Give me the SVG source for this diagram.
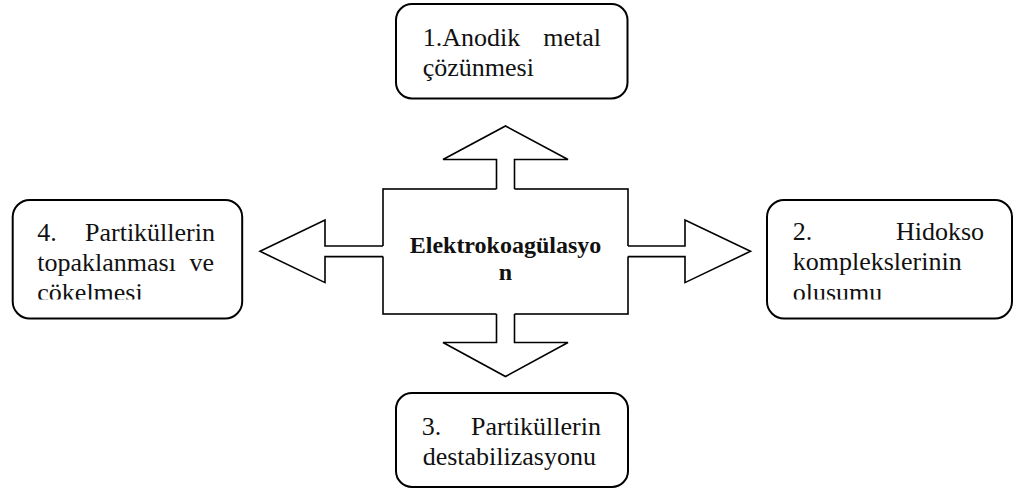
<svg xmlns="http://www.w3.org/2000/svg" width="1014" height="491" viewBox="0 0 1014 491">
<style>
.box{fill:#fff;stroke:#000;stroke-width:2}
.t{font-family:"Liberation Serif","Times New Roman",serif;font-size:26px;fill:#111}
.c{font-family:"Liberation Serif","Times New Roman",serif;font-size:24px;font-weight:bold;fill:#111;text-anchor:middle}
.af{fill:#fff;stroke:none}
.ao{fill:none;stroke:#000;stroke-width:1.6;stroke-linejoin:miter}
</style>
<defs>
<clipPath id="clip4"><rect x="14" y="201" width="227" height="98.5"/></clipPath>
<clipPath id="clip2"><rect x="768" y="201" width="243" height="98.5"/></clipPath>
</defs>
<rect width="1014" height="491" fill="#fff"/>
<g id="center">
<rect x="383" y="189" width="245" height="125" fill="#fff" stroke="#000" stroke-width="1.6"/>
<text class="c" x="505.5" y="252.7">Elektrokoagülasyo</text>
<text class="c" x="505.5" y="280">n</text>
</g>
<g id="connectors">
<polygon class="af" points="496.5,191 496.5,159.5 443,159.5 505.5,126 568,159.5 514.5,159.5 514.5,191"/>
<polyline class="ao" points="496.5,189 496.5,159.5 443,159.5 505.5,126 568,159.5 514.5,159.5 514.5,189"/>
<polygon class="af" points="496.5,312 496.5,342.5 443,342.5 505.5,376.5 568,342.5 514.5,342.5 514.5,312"/>
<polyline class="ao" points="496.5,314 496.5,342.5 443,342.5 505.5,376.5 568,342.5 514.5,342.5 514.5,314"/>
<polygon class="af" points="385,246 325,246 325,220 260,251.3 325,282.6 325,256.6 385,256.6"/>
<polyline class="ao" points="383,246 325,246 325,220 260,251.3 325,282.6 325,256.6 383,256.6"/>
<polygon class="af" points="626,246 685,246 685,220 750.5,251.3 685,282.6 685,256.6 626,256.6"/>
<polyline class="ao" points="628,246 685,246 685,220 750.5,251.3 685,282.6 685,256.6 628,256.6"/>
</g>
<g id="node1">
<rect class="box" x="396" y="4" width="231.5" height="94.5" rx="16" ry="16"/>
<text class="t"><tspan x="422.7" y="46">1.Anodik</tspan><tspan x="601" y="46" text-anchor="end">metal</tspan><tspan x="422.7" y="75.5">çözünmesi</tspan></text>
</g>
<g id="node2">
<rect class="box" x="767" y="200" width="245" height="118.5" rx="17" ry="17"/>
<text class="t" clip-path="url(#clip2)"><tspan x="792.7" y="240">2.</tspan><tspan x="984" y="240" text-anchor="end">Hidokso</tspan><tspan x="792.7" y="270">komplekslerinin</tspan><tspan x="792.7" y="301">olusumu</tspan></text>
</g>
<g id="node3">
<rect class="box" x="396" y="393" width="232" height="94" rx="16" ry="16"/>
<text class="t"><tspan x="421.7" y="435">3.</tspan><tspan x="601" y="435" text-anchor="end">Partiküllerin</tspan><tspan x="422.7" y="465">destabilizasyonu</tspan></text>
</g>
<g id="node4">
<rect class="box" x="12.7" y="200" width="229.5" height="118.5" rx="17" ry="17"/>
<text class="t" clip-path="url(#clip4)"><tspan x="37.3" y="240.5">4.</tspan><tspan x="215" y="240.5" text-anchor="end">Partiküllerin</tspan><tspan x="37.3" y="270.5">topaklanması</tspan><tspan x="214" y="270.5" text-anchor="end">ve</tspan><tspan x="37.3" y="301">cökelmesi</tspan></text>
</g>
</svg>
